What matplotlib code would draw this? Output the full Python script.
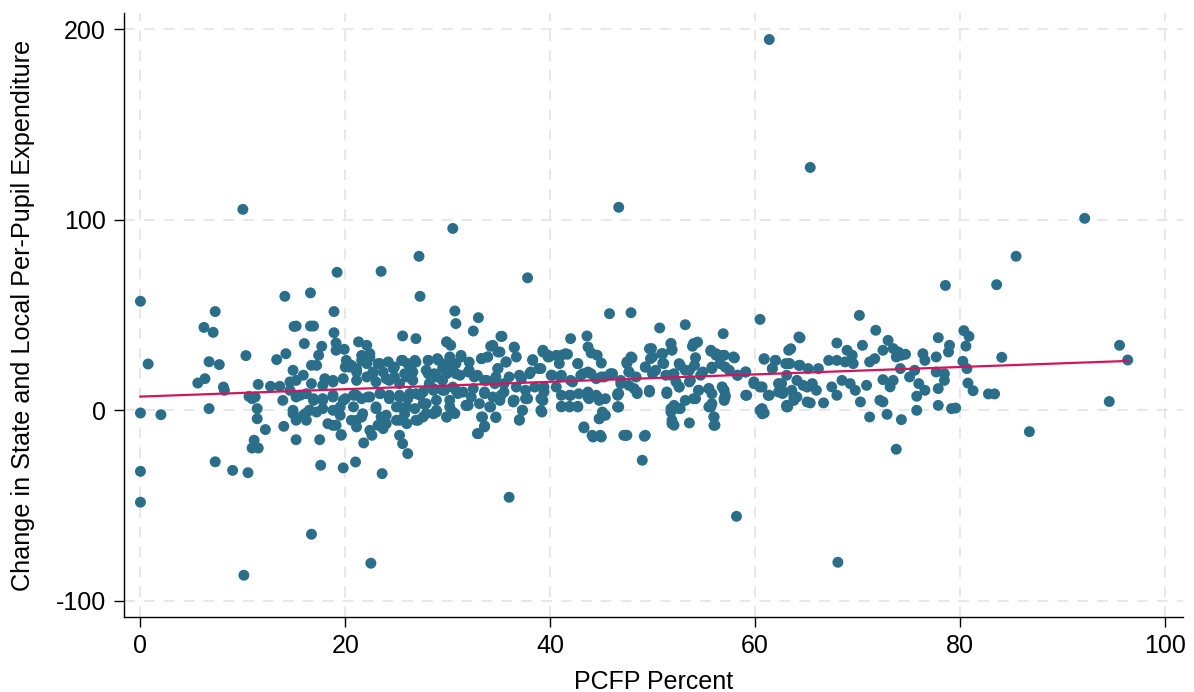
import numpy as np
import matplotlib.pyplot as plt

plt.rcParams['font.family'] = ['Liberation Sans', 'DejaVu Sans']
plt.rcParams['axes.unicode_minus'] = False

# points, grouped by x range: (PCFP percent, change in expenditure)
pts_0_15 = [(0, 57.2), (0.75, 24.3), (0, -1.4), (2.0, -2.3), (0, -32), (0, -48.2), (7.3, 51.8), (6.2, 43.5),
            (7.1, 40.9), (6.7, 25.5), (7.7, 24), (5.6, 14.3), (6.3, 16.6), (8.1, 12.2), (8.2, 10.5), (6.7, 0.9),
            (7.3, -27), (9.0, -31.5), (10.5, -32.7), (10.3, 28.7), (11.5, 13.6), (10.6, 7.3), (11.2, 7),
            (10.9, 6.1), (11.4, 0.9), (11.4, -4.4), (12.2, -10.1), (11.1, -15.7), (10.9, -19.8), (11.5, -19.8),
            (12.7, 12.6), (13.6, 12.6), (13.3, 26.6), (14.2, 29.7), (14.1, 59.8), (13.9, 5.2), (14.0, -8.4),
            (15, 44), (10.0, 105.4), (10.1, -86.5)]

pts_15_31 = [(16.6, 61.6), (27.3, 59.8), (18.9, 51.8), (30.7, 52.1), (30.8, 45.5), (15.2, 44.2), (16.6, 44.2),
             (16.9, 44.2), (18.9, 40.7), (16.0, 35), (17.7, 33.6), (17.4, 28.9), (19.1, 35.3), (19.1, 31.5),
             (19.9, 32), (21.3, 35.9), (22.1, 34.1), (25.6, 39), (26.9, 37.6), (29.9, 35.9), (30.3, 34.1),
             (14.9, 21), (15.9, 18.4), (16.7, 23.6), (17.2, 23.6), (16.7, 14), (18.0, 16.6), (18.8, 15.7),
             (19.8, 16.6), (20.1, 26.2), (20.4, 22.7), (21.1, 21.9), (21.6, 26.2), (22.4, 28), (23.4, 24.5),
             (24.2, 25.4), (24.7, 21.9), (25.5, 26.2), (26.1, 24.5), (26.8, 26.2), (28.1, 26.2), (29.1, 26.2),
             (29.9, 24.5), (30.8, 24.5), (28.1, 19.2), (28.9, 17.5), (29.9, 19.2), (30.8, 19.2), (22.7, 20.1),
             (23.7, 20.1), (26, 17.5), (26.6, 20.1),
             (14.6, 10.5), (15.6, 7.9), (16.9, 6.1), (17.8, 5.3), (18.8, 7), (20, 6.1), (21.1, 7.9), (22.2, 7),
             (23.4, 8.8), (24.3, 7.9), (25.3, 7), (26.3, 8.8), (27.3, 7.9), (28.6, 10.5), (29.7, 10.5),
             (30.8, 10.5),
             (14.9, -1.7), (16.1, -1.7), (17.2, -0.9), (18.3, -7), (19.1, -7.8), (20.6, -5.2), (21.6, -3.5),
             (22.4, -10.5), (23.2, -7.8), (24.0, -7), (25.0, -5.2), (26.0, 1.8), (26.9, -5.2), (27.9, -1.7),
             (28.9, -0.9), (29.9, -3.5), (30.7, -1.7),
             (15.2, -15.4), (17.5, -15.4), (19.6, -12.7), (21.8, -17.1), (25.6, -17.5), (26.1, -22.7),
             (17.6, -28.8), (19.8, -30.2), (21, -27.1), (23.6, -33.2),
             (16.7, -65), (22.5, -80.2), (30.5, 95.4), (19.2, 72.4), (23.5, 72.9), (27.2, 80.8),
             (22.1, 17.5), (24.3, 15.7), (25.3, 14), (21.1, 15.7), (28.2, 14), (29.5, 15.7), (30.2, 5.3),
             (16.5, 0), (19.5, 1.8), (23, 1.8), (25.3, 1.8), (27.6, 3.5), (28.9, 5.3)]

# second pass over the crowded band, x 15-27
pts_band_a = [(15.2, 15.7), (14.6, 14.9), (17.8, 13.1), (18.8, 14.9), (20.0, 22.7), (20.6, 23.6), (21.1, 20.1),
              (21.6, 28.8), (22.4, 29.7), (22.1, 24.5), (23.2, 24.5), (24.8, 22.7), (25.6, 26.2), (26.3, 23.6),
              (26.9, 25.3), (23.0, 14.9), (24.0, 16.6), (24.8, 17.5), (25.8, 19.2), (26.6, 15.7), (22.7, 19.2),
              (15.2, 7.0), (16.2, 8.7), (16.9, 5.2), (17.8, 6.1), (18.8, 7.9), (19.8, 5.2), (20.8, 7.9),
              (21.6, 6.1), (22.4, 7.0), (23.4, 8.7), (24.3, 6.1), (25.3, 7.9), (26.1, 6.1), (26.9, 8.7),
              (14.9, 0), (15.9, -2.6), (16.5, 0), (17.8, 0.9), (18.8, 0), (19.5, -2.6), (20.8, 1.8),
              (21.7, -1.8), (23.0, 0.9), (24.0, -2.6), (25.0, 1.8), (25.8, -1.8), (26.8, 0.9),
              (15.2, -5.2), (16.2, -5.2), (18.8, -7.9), (21.1, -5.2), (21.1, -8.7), (23.5, -3.5),
              (25.3, -5.2), (26.0, -7.0), (27.1, -5.2), (19.6, -13.1), (22.6, -13.1), (23.7, -9.6),
              (25.3, -13.1)]

pts_31_47 = [(37.8, 69.5), (33, 48.6), (32.5, 41.6), (35.3, 38.8), (34.4, 34.1), (34.9, 30.6), (36.5, 33.2),
             (36.7, 28), (42, 37.6), (43.6, 39), (43.7, 33.2), (44, 30.1), (44.6, 28.9), (45, 24.8),
             (45.8, 50.7), (39.3, 31.5), (39.8, 28.9), (38.3, 26.6), (41.1, 28.9), (41.7, 29.4), (42.7, 24.5),
             (31.3, 28), (33.3, 27.1), (33.9, 28), (35.7, 25.4), (34.9, 21.9),
             (32, 20.1), (32.6, 17.5), (33.6, 15.7), (34.6, 14), (35.5, 14), (37.2, 16.6), (38.1, 20.1),
             (39.1, 21.9), (40.1, 18.4), (41.1, 18.4), (42, 15.7), (43, 18.4), (44, 19.2), (45, 17.5),
             (45.9, 19.2), (46.9, 15.7),
             (31, 8.8), (32.3, 7), (33.6, 8.8), (35.2, 7.9), (36.5, 5.3), (37.8, 6.1), (39.4, 12.3),
             (41.1, 7.9), (42, 7.9), (43.7, 7), (44.6, 7), (46.6, 7.9),
             (31.8, 2.6), (34.2, 1.8), (36.4, 4.4), (39.1, 6.1), (41.1, 2.1), (41.9, 2.1), (42.7, 2.1),
             (46.6, 1.8),
             (33.4, -3.5), (34.7, -3.8), (37, -4.9), (37.3, 0), (39.2, -0.9), (44.8, -4.4), (45.4, -2.6),
             (43.3, -9.2), (44.2, -14), (45, -14), (47.2, -13.1),
             (33.6, -8.2), (33, -12.2), (36, -45.6), (46.7, 106.5)]

# second pass over the crowded band, x 27-52
pts_band_b = [(29.9, 35.8), (35.2, 38.8), (34.2, 33.6), (35.1, 30.6), (36.5, 32.9),
              (28.1, 26.2), (29.0, 27.1), (30.2, 28.0), (31.3, 28.8), (32.1, 25.3), (33.3, 27.1), (33.9, 28.0),
              (35.7, 25.3), (34.9, 21.9), (38.3, 26.2), (39.3, 30.6), (39.8, 28.0), (38.9, 21.9), (38.0, 19.2),
              (37.0, 18.4), (36.0, 17.5), (27.9, 21.0), (28.7, 19.2), (29.5, 21.9), (30.5, 21.0), (31.2, 18.4),
              (32.1, 21.0), (32.9, 18.4), (33.8, 15.7), (34.7, 17.5),
              (27.6, 9.6), (28.6, 11.4), (29.5, 10.5), (30.5, 12.2), (31.5, 9.6), (32.5, 11.4), (33.6, 9.6),
              (34.4, 7.0), (35.5, 9.6), (36.7, 12.2), (37.6, 10.5), (38.5, 12.2), (39.4, 9.6),
              (27.9, 3.5), (28.9, 0), (30.2, 1.8), (31.8, 2.6), (33.1, 3.5), (34.1, 1.8), (35.1, 5.2),
              (36.4, 5.2), (37.6, 6.1), (39.3, 5.2),
              (27.6, -3.5), (28.6, -1.8), (29.9, -3.5), (30.5, -0.9), (32.0, 2.6), (33.3, -3.5), (34.7, -3.5),
              (37.3, 0), (39.1, 0), (33.6, -8.7), (32.9, -12.2), (37.0, -5.2),
              (47.9, 28.0), (47.5, 24.5), (49.7, 32.3), (50.0, 28.0), (51.0, 29.7), (51.8, 35.0), (51.9, 31.5),
              (51.1, 24.5), (39.9, 28.0), (40.6, 28.8), (41.5, 29.7), (42.7, 24.5), (40.9, 24.5),
              (40.2, 18.4), (41.0, 17.5), (42.2, 14.9), (43.2, 19.2), (43.7, 20.1), (44.5, 16.6), (45.3, 17.5),
              (46.1, 19.2), (46.9, 14.0), (47.7, 20.1), (48.4, 17.5), (49.3, 22.7), (50.3, 21.0), (51.3, 18.4),
              (52.1, 19.2), (52.3, 14.9),
              (40.6, 12.2), (41.9, 7.9), (42.8, 8.7), (43.7, 9.6), (44.5, 7.9), (45.4, 6.1), (46.6, 8.7),
              (47.7, 13.1), (48.5, 9.6), (49.7, 10.5), (51.4, 9.6),
              (41.1, 1.8), (41.9, 1.8), (42.7, 1.8), (43.8, 6.1), (44.8, 5.2), (46.6, 1.8),
              (45.1, -0.9), (44.8, -4.4), (43.3, -8.7), (44.1, -13.1), (44.9, -13.1), (47.4, -13.1),
              (49.3, -13.1), (51.8, 0.9), (51.9, -5.2)]

pts_47_63 = [(47.9, 51.2), (50.7, 43.2), (53.2, 44.9), (56.9, 40.2), (60.5, 47.7), (51.8, 35), (51.9, 32),
             (54.2, 35.3), (53.9, 33.6), (49.9, 32.4), (50.9, 29.7), (55.7, 31), (56.2, 28.9), (57, 28.9),
             (58, 27.5), (48, 27.5), (47.5, 25.4), (49.8, 27.1), (51, 24.8), (52.7, 23.6), (54.2, 27.6),
             (60.9, 26.8), (62, 26.2), (63.3, 31.5),
             (47.7, 20.1), (49.3, 22.7), (50, 19.2), (51.8, 18.4), (53.6, 21), (54.7, 18.4), (55.8, 21.9),
             (57.1, 22.7), (58.3, 18.4), (59.1, 20.1), (61.7, 21.9), (63, 24.5),
             (46.7, 8.8), (48.2, 11.4), (48.5, 8.8), (49.7, 9.6), (51.4, 8.8), (52.6, 12.3), (53.7, 15.7),
             (54.5, 10.5), (55.5, 11.4), (56.8, 12.3), (57.1, 7.9), (59.1, 7.9), (59.9, 14), (60.7, 12.3),
             (61.4, 7.9), (62.3, 14), (62.7, 8.8), (63.1, 2.6),
             (46.7, 1.8), (52.1, 2.6), (51.8, -0.9), (52.7, 0.9), (54.2, 6.1), (55.7, 1.8), (56, -3.5),
             (57, 6.1), (60.7, 0.9), (60.9, -1.4),
             (51.9, -7), (52.1, -7.8), (53.6, -6.6), (56.1, -7.8), (47.5, -13.1), (49.2, -13.6), (49, -26.2),
             (58.2, -55.6), (61.4, 194.5)]

# second pass over the crowded band, x 52-65
pts_band_c = [(54.0, 35.0), (54.4, 35.8), (55.7, 31.5), (56.2, 29.7), (56.8, 28.8), (57.9, 28.0),
              (64.3, 38.5), (63.5, 32.3), (62.0, 26.2), (60.9, 27.1), (61.7, 21.9), (63.3, 24.5), (64.3, 23.6),
              (52.6, 24.5), (53.2, 21.0), (54.1, 23.6), (54.9, 20.1), (55.8, 22.7), (56.6, 24.5), (57.5, 21.0),
              (58.3, 18.4), (59.1, 20.1),
              (52.6, 12.2), (53.6, 14.9), (54.5, 10.5), (55.5, 11.4), (55.8, 8.7), (57.0, 10.5), (57.1, 7.0),
              (59.2, 7.9), (59.9, 14.9), (60.5, 12.2), (61.3, 7.9), (62.3, 9.6), (62.6, 14.0), (63.6, 10.5),
              (64.1, 7.0), (65.1, 12.2),
              (53.2, 5.2), (54.0, 6.1), (55.5, 1.8), (55.8, 3.5), (57.0, 5.2), (63.8, 5.2), (63.1, 1.8),
              (65.1, 4.4), (52.6, 0.9), (60.5, 0), (60.7, -1.8), (56.0, -3.5), (56.0, -7.9)]

pts_63_80 = [(70.2, 49.8), (71.8, 42), (64.4, 38), (68, 35.3), (70.5, 34.1), (73, 36.7), (77.9, 38.1),
             (69, 31.5), (69.5, 28.9), (72.5, 31.5), (73.5, 32.4), (74, 30.6), (74.7, 29.4), (76.4, 29.7),
             (76.6, 26.2), (77.7, 28), (79, 34.1), (78.9, 30.6),
             (63.4, 24.5), (64.4, 23.6), (65.2, 21.9), (66.2, 21.9), (67.2, 26.2), (68, 26.2), (68.8, 25.4),
             (69.6, 24.5), (71.2, 25.4), (71.7, 27.1), (73.8, 28), (74.3, 28.9), (74.2, 21.9), (75.6, 21),
             (77.7, 20.1), (78.5, 19.2),
             (63.1, 18.4), (64.1, 15.7), (64.7, 13.1), (65.6, 14), (66, 10.5), (67.5, 12.3), (68.5, 15.7),
             (69.3, 14), (69.8, 10.5), (70.9, 13.1), (72.5, 16.1), (73.5, 15.7), (73.2, 12.3), (75.1, 17.5),
             (76, 14), (76.6, 10.5), (77.9, 11.4), (78.5, 15.7),
             (62.8, 9.6), (63.8, 7), (63.2, 1.8), (65.4, 3.9), (66.7, 3.9), (68, 7.9), (70.3, 4.4),
             (72.2, 5.3), (72.5, 4.4), (75.8, 7.4), (77.9, 2.6), (79.2, 0.9),
             (71.2, -3.5), (72.9, -2.1), (74.3, -4.9), (75.8, 0), (73.8, -20.4), (65.4, 127.4), (68.1, -79.7),
             (78.6, 65.5)]

pts_80_100 = [(83.6, 65.9), (80.4, 41.8), (80.9, 38.8), (80.6, 33.7), (80.3, 25.7), (80.7, 21.9), (84.1, 27.8),
              (80.8, 14.3), (81.3, 10.3), (82.8, 8.6), (83.4, 8.6), (79.6, 1.2), (86.8, -11.2), (95.6, 34.1),
              (96.4, 26.4), (94.6, 4.6), (85.5, 80.8), (92.2, 100.7)]

# fitted line endpoints as drawn
fit_x = [0, 96.4]
fit_y = [7.2, 25.9]

pts = np.array(pts_0_15 + pts_15_31 + pts_band_a + pts_31_47 + pts_band_b
               + pts_47_63 + pts_band_c + pts_63_80 + pts_80_100)

fig = plt.figure(figsize=(11.94, 6.92), dpi=100)
ax = fig.add_axes([0.1039, 0.1084, 0.8869, 0.8728])

ax.scatter(pts[:, 0], pts[:, 1], s=62, color='#2a6e8a', edgecolors='none', zorder=2)
ax.plot(fit_x, fit_y, color='#d3165c', lw=1.6, zorder=3)

ax.set_xlim(-1.6, 101.8)
ax.set_ylim(-108.4, 208.4)
ax.set_xticks([0, 20, 40, 60, 80, 100])
ax.set_yticks([-100, 0, 100, 200])
ax.grid(True, color='#e6e6e6', linestyle=(0, (6, 5)), linewidth=1.3, zorder=0)
ax.set_axisbelow(True)

for s in ['top', 'right']:
    ax.spines[s].set_visible(False)
for s in ['left', 'bottom']:
    ax.spines[s].set_linewidth(1.0)
ax.tick_params(direction='out', length=7, width=1, labelsize=18)
ax.tick_params(axis='y', pad=6)
ax.tick_params(axis='x', pad=5)

ax.set_xlabel('PCFP Percent', fontsize=18, labelpad=9)
ax.set_ylabel('Change in State and Local Per-Pupil Expenditure', fontsize=18.2, labelpad=15)

fig.savefig('out.png', dpi=100)
